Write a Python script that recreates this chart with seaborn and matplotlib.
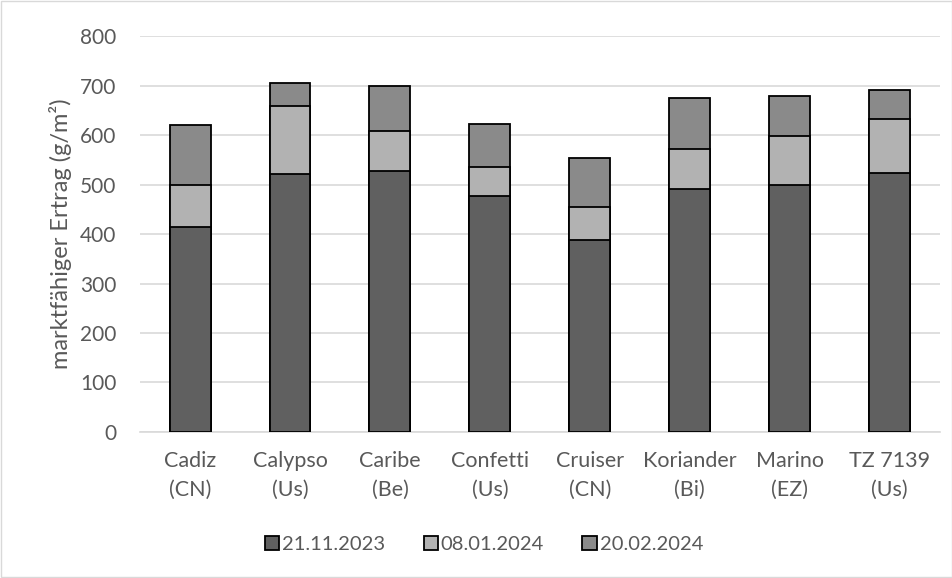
import matplotlib
matplotlib.use("Agg")
import matplotlib.pyplot as plt
import seaborn as sns
import numpy as np
import pandas as pd
from matplotlib.patches import Patch

categories = ["Cadiz\n(CN)", "Calypso\n(Us)", "Caribe\n(Be)", "Confetti\n(Us)",
              "Cruiser\n(CN)", "Koriander\n(Bi)", "Marino\n(EZ)", "TZ 7139\n(Us)"]
harvest_1 = [415, 522, 528, 477, 387, 491, 498, 523]   # 21.11.2023
harvest_2 = [85, 136, 81, 59, 68, 81, 101, 109]        # 08.01.2024
harvest_3 = [120, 47, 89, 87, 98, 102, 80, 58]         # 20.02.2024
series_labels = ["21.11.2023", "08.01.2024", "20.02.2024"]
colors = ["#606060", "#b2b2b2", "#8a8a8a"]

sns.set_theme(style="white")
plt.rcParams['font.family'] = ['Lato', 'DejaVu Sans']
text_color = "#595959"

df = pd.DataFrame({"cat": categories, "h1": harvest_1, "h2": harvest_2, "h3": harvest_3})
df["c2"] = df["h1"] + df["h2"]
df["c3"] = df["c2"] + df["h3"]

fig = plt.figure(figsize=(9.53, 5.78), dpi=100)
ax = fig.add_axes([0.147, 0.2526, 0.839, 0.6851])

for col, color in [("c3", colors[2]), ("c2", colors[1]), ("h1", colors[0])]:
    sns.barplot(data=df, x="cat", y=col, color=color, width=0.41,
                edgecolor="black", linewidth=1.3, saturation=1, ax=ax, zorder=3)

ax.set_ylim(0, 800)
ax.set_xlim(-0.5, 7.5)
ax.set_yticks(np.arange(0, 801, 100))
ax.yaxis.grid(True, color="#d9d9d9", linewidth=1.2, zorder=0)
ax.set_axisbelow(True)
for s in ["top", "right", "left"]:
    ax.spines[s].set_visible(False)
ax.spines["bottom"].set_color("#d9d9d9")
ax.spines["bottom"].set_linewidth(1.2)
ax.tick_params(axis="y", length=0, labelsize=15, colors=text_color, pad=17)
ax.tick_params(axis="x", length=0, labelsize=15.5, colors=text_color, pad=14)
ax.set_xlabel("")
ax.set_ylabel("marktfähiger Ertrag (g/m²)", fontsize=17, color=text_color)
ax.yaxis.set_label_coords(-0.085, 0.5)
for lab in ax.get_xticklabels():
    lab.set_linespacing(1.5)

handles = [Patch(facecolor=c, edgecolor="black", linewidth=1.3, label=l)
           for c, l in zip(colors, series_labels)]
fig.legend(handles=handles, loc="center", bbox_to_anchor=(0.508, 0.058), ncol=3,
           frameon=False, fontsize=14.5, labelcolor=text_color, handlelength=0.7,
           handleheight=0.7, handletextpad=0.15, columnspacing=1.9)

fig.patches.append(plt.Rectangle((0.001, 0.001), 0.998, 0.998, transform=fig.transFigure,
                                 fill=False, edgecolor="#d9d9d9", linewidth=1))
fig.savefig("out.png", dpi=100)
